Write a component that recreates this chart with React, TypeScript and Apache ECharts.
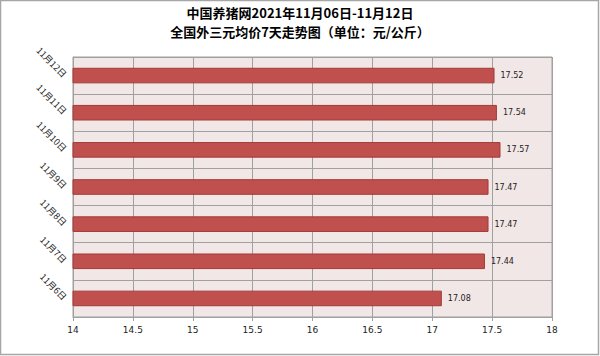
import React, { useEffect, useRef } from "react";
import * as echarts from "echarts";

const categories = ["11月6日", "11月7日", "11月8日", "11月9日", "11月10日", "11月11日", "11月12日"];
const prices = [17.08, 17.44, 17.47, 17.47, 17.57, 17.54, 17.52];
const titleLine1 = "中国养猪网2021年11月06日-11月12日";
const titleLine2 = "全国外三元均价7天走势图（单位：元/公斤）";

export default function App() {
  const ref = useRef<HTMLDivElement>(null);
  useEffect(() => {
    const chart = echarts.init(ref.current!, null, { renderer: "svg" });
    const ts = {
      fontFamily: "Noto Sans CJK SC",
      fontSize: 13,
      lineHeight: 15,
      fontWeight: "bold",
      color: "#000",
    };
    chart.setOption({
      animation: false,
      backgroundColor: "#ffffff",
      title: [
        { text: titleLine1, left: "center", top: 5, padding: 0, textStyle: ts },
        { text: titleLine2, left: "center", top: 24, padding: 0, textStyle: ts },
      ],
      graphic: [
        {
          type: "rect",
          shape: { x: 0.5, y: 0.5, width: 598, height: 354 },
          style: { fill: "none", stroke: "#a6a6a6", lineWidth: 1.5 },
          silent: true,
        },
      ],
      grid: {
        left: 73,
        right: 48,
        top: 57,
        bottom: 39,
        show: true,
        backgroundColor: "#f2e7e7",
        borderColor: "#a0a0a0",
        borderWidth: 1,
      },
      xAxis: {
        type: "value",
        min: 14,
        max: 18,
        interval: 0.5,
        axisLine: { show: true, lineStyle: { color: "#a0a0a0" } },
        axisTick: { show: true, length: 4, lineStyle: { color: "#a0a0a0" } },
        splitLine: { show: true, lineStyle: { color: "#a0a0a0", width: 1 } },
        axisLabel: { color: "#222", fontSize: 9, fontFamily: "DejaVu Sans", margin: 8 },
      },
      yAxis: {
        type: "category",
        data: categories,
        axisLine: { show: true, lineStyle: { color: "#a0a0a0" } },
        axisTick: { show: false },
        splitLine: { show: true, lineStyle: { color: "#a0a0a0", width: 1 } },
        axisLabel: {
          rotate: -45,
          color: "#222",
          fontSize: 9,
          fontFamily: "Noto Sans CJK SC",
          margin: 8,
        },
      },
      series: [
        {
          type: "bar",
          data: prices,
          barWidth: "42%",
          itemStyle: { color: "#c0504d", borderColor: "#a33a37", borderWidth: 1 },
          label: {
            show: true,
            position: "right",
            distance: 6,
            color: "#222",
            fontSize: 8,
            fontFamily: "DejaVu Sans",
          },
        },
      ],
    });
    return () => chart.dispose();
  }, []);
  return <div ref={ref} style={{ width: 600, height: 356, position: "absolute", left: 0, top: 0 }} />;
}
